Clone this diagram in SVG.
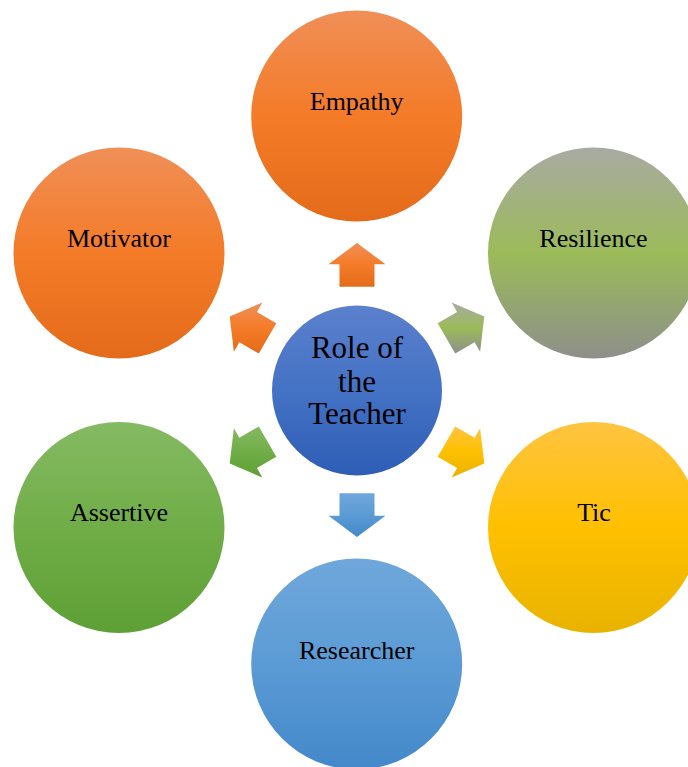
<svg xmlns="http://www.w3.org/2000/svg" width="688" height="767" viewBox="0 0 688 767">
  <defs>
    <linearGradient id="gOrange" x1="0" y1="0" x2="0" y2="1">
      <stop offset="0" stop-color="#F08F57"/>
      <stop offset="0.5" stop-color="#F47B28"/>
      <stop offset="1" stop-color="#E46B19"/>
    </linearGradient>
    <linearGradient id="gOlive" x1="0" y1="0" x2="0" y2="1">
      <stop offset="0" stop-color="#A9AAA3"/>
      <stop offset="0.5" stop-color="#9BBB59"/>
      <stop offset="1" stop-color="#8E8F8B"/>
    </linearGradient>
    <linearGradient id="gYellow" x1="0" y1="0" x2="0" y2="1">
      <stop offset="0" stop-color="#FFC441"/>
      <stop offset="0.5" stop-color="#FFC000"/>
      <stop offset="1" stop-color="#E8B300"/>
    </linearGradient>
    <linearGradient id="gSky" x1="0" y1="0" x2="0" y2="1">
      <stop offset="0" stop-color="#6FA7DB"/>
      <stop offset="0.5" stop-color="#5B9BD5"/>
      <stop offset="1" stop-color="#4388CA"/>
    </linearGradient>
    <linearGradient id="gGreen" x1="0" y1="0" x2="0" y2="1">
      <stop offset="0" stop-color="#85BA63"/>
      <stop offset="0.5" stop-color="#70AD47"/>
      <stop offset="1" stop-color="#5EA035"/>
    </linearGradient>
    <linearGradient id="gBlue" x1="0" y1="0" x2="0" y2="1">
      <stop offset="0" stop-color="#5B80CD"/>
      <stop offset="0.5" stop-color="#4472C4"/>
      <stop offset="1" stop-color="#2E5DB6"/>
    </linearGradient>
  </defs>
  <style>
    .lbl { font-family: "Liberation Serif", "Times New Roman", serif; font-size: 26px; fill: #000; text-anchor: middle; }
    .ctr { font-family: "Liberation Serif", "Times New Roman", serif; font-size: 31px; fill: #000; text-anchor: middle; }
  </style>
  <rect width="688" height="767" fill="#FFFFFF"/>

  <g id="connectors">
    <polygon fill="url(#gOrange)" points="339.5,286.7 339.5,264.3 328.5,264.3 357,243 385.5,264.3 374.5,264.3 374.5,286.7"/>
    <polygon fill="url(#gSky)" points="374.5,493.3 374.5,515.7 385.5,515.7 357,537 328.5,515.7 339.5,515.7 339.5,493.3"/>
    <polygon fill="url(#gOlive)" points="437.71,323.2 457.11,311.99 451.61,302.47 484.3,316.5 480.11,351.83 474.61,342.31 455.21,353.51"/>
    <polygon fill="url(#gYellow)" points="455.21,426.5 474.61,437.7 480.11,428.17 484.3,463.5 451.61,477.53 457.11,468.0 437.71,456.8"/>
    <polygon fill="url(#gOrange)" points="276.29,323.2 256.89,311.99 262.39,302.47 229.7,316.5 233.89,351.83 239.39,342.31 258.79,353.51"/>
    <polygon fill="url(#gGreen)" points="258.79,426.5 239.39,437.7 233.89,428.17 229.7,463.5 262.39,477.53 256.89,468.0 276.29,456.8"/>
  </g>

  <g id="empathy">
    <circle cx="356.7" cy="116" r="105.5" fill="url(#gOrange)"/>
    <text class="lbl" x="356.7" y="110">Empathy</text>
  </g>
  <g id="motivator">
    <circle cx="119" cy="253" r="105.5" fill="url(#gOrange)"/>
    <text class="lbl" x="119" y="247">Motivator</text>
  </g>
  <g id="resilience">
    <circle cx="593.5" cy="253" r="105.5" fill="url(#gOlive)"/>
    <text class="lbl" x="593.5" y="247">Resilience</text>
  </g>
  <g id="assertive">
    <circle cx="119" cy="527.5" r="105.5" fill="url(#gGreen)"/>
    <text class="lbl" x="119" y="521">Assertive</text>
  </g>
  <g id="tic">
    <circle cx="593.5" cy="527.5" r="105.5" fill="url(#gYellow)"/>
    <text class="lbl" x="594" y="521">Tic</text>
  </g>
  <g id="researcher">
    <circle cx="356.7" cy="664" r="105.5" fill="url(#gSky)"/>
    <text class="lbl" x="356.7" y="659">Researcher</text>
  </g>
  <g id="center">
    <circle cx="357" cy="390.5" r="85" fill="url(#gBlue)"/>
    <text class="ctr" x="357" y="358.3">Role of</text>
    <text class="ctr" x="357" y="392.3">the</text>
    <text class="ctr" x="357" y="424.3">Teacher</text>
  </g>
</svg>
